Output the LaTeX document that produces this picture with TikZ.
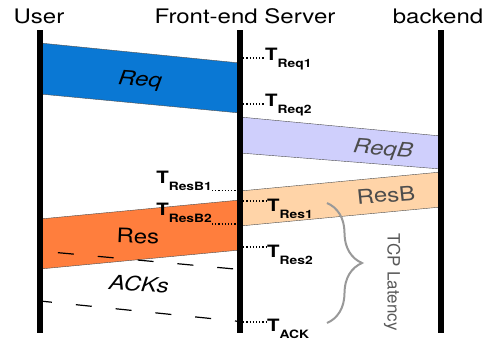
\documentclass[tikz,border=0pt]{standalone}
\usepackage{fontspec}
\setmainfont{TeX Gyre Heros}
\usetikzlibrary{positioning,decorations.pathreplacing}

\definecolor{reqblue}{HTML}{0A78D4}
\definecolor{reqbblue}{HTML}{CFCFFC}
\definecolor{resorange}{HTML}{FF7E3D}
\definecolor{resbpeach}{HTML}{FFD4A8}
\definecolor{bracegray}{HTML}{999999}

\tikzset{>=latex}
\tikzset{
  head/.style={font=\fontsize{20}{20}\selectfont, xscale=1.2, inner sep=0pt},
  bandlbl/.style={font=\fontsize{20}{20}\selectfont, xscale=1.2},
  band/.style={draw=black!70, line width=0.4pt},
  life/.style={line width=6pt},
  tlab/.style={font=\fontsize{17}{17}\selectfont\bfseries, xscale=1.2, inner sep=0pt},
  tdot/.style={dotted, line width=1.2pt},
  ackline/.style={line width=1.2pt, dash pattern=on 16pt off 24pt}
}
\newcommand{\tsub}[1]{\raisebox{-7pt}{\fontsize{11.5}{11.5}\selectfont #1}}

\begin{document}
\begin{tikzpicture}[x=1pt, y=-1pt]

		\useasboundingbox (0,0) rectangle (490,341);

		% Headers
		\node[head, anchor=base] (user) at (39,23) {User};
		\node[head, anchor=base] (fe) at (245,23) {Front-end Server};
		\node[head, anchor=base] (back) at (438,23) {backend};

		% Lifeline ends
		\foreach \n/\x in {user/40, fe/240, back/441}{
			\coordinate (\n-top) at (\x,30);
			\coordinate (\n-bot) at (\x,333);
		}

		% Messages
		\filldraw[band, fill=reqblue] (40,43) -- (240,63) -- (240,113) -- (40,94) -- cycle;
		\filldraw[band, fill=reqbblue] (240,117) -- (441,136) -- (441,169) -- (240,153) -- cycle;
		\filldraw[band, fill=resbpeach] (240,191) -- (441,172) -- (441,207) -- (240,226) -- cycle;
		\filldraw[band, fill=resorange] (40,219) -- (240,200) -- (240,250) -- (40,269) -- cycle;
		\node[bandlbl, rotate=-5] (req) at (140,81) {\itshape Req};
		\node[bandlbl, rotate=-5, text=black!70] (reqb) at (383,150) {\itshape ReqB};
		\node[bandlbl, rotate=5, text=black!70] (resb) at (386,195) {ResB};
		\node[bandlbl, rotate=-2] (res) at (138,236) {Res};

		% ACKs
		\coordinate (ack1a) at (40,251);
		\coordinate (ack1b) at (240,269.5);
		\coordinate (ack2a) at (40,301);
		\coordinate (ack2b) at (240,321.5);
		\draw[ackline, dash phase=22pt] (ack1a) -- (ack1b);
		\draw[ackline, dash phase=4pt] (ack2a) -- (ack2b);
		\node[bandlbl, rotate=-3] (acks) at (139,284) {\itshape ACKs};

		% Lifelines
		\foreach \n in {user, fe, back}
			\draw[life] (\n-top) -- (\n-bot);

		% Timestamps
		\node[tlab, anchor=base west] (treq1) at (265,60) {T\tsub{Req1}};
		\node[tlab, anchor=base west] (treq2) at (265,106) {T\tsub{Req2}};
		\node[tlab, anchor=base east] (tresb1) at (212,183) {T\tsub{ResB1}};
		\node[tlab, anchor=base east] (tresb2) at (212,215) {T\tsub{ResB2}};
		\node[tlab, anchor=base west] (tres1) at (267,211) {T\tsub{Res1}};
		\node[tlab, anchor=base west] (tres2) at (267,257) {T\tsub{Res2}};
		\node[tlab, anchor=base west] (tack) at (267,331) {T\tsub{ACK}};
		\draw[tdot] ([yshift=2pt]treq1.base west -| fe-top) -- ([yshift=2pt]treq1.base west);
		\draw[tdot] ([yshift=2pt]treq2.base west -| fe-top) -- ([yshift=2pt]treq2.base west);
		\draw[tdot] ([yshift=-7.5pt]tresb1.base east) -- ([yshift=-7.5pt]tresb1.base east -| fe-top);
		\draw[tdot] ([yshift=-9pt]tresb2.base east) -- ([yshift=-9pt]tresb2.base east -| fe-top);
		\draw[tdot] ([yshift=10pt]tres1.base west -| fe-top) -- ([yshift=10pt]tres1.base west);
		\draw[tdot] ([yshift=10pt]tres2.base west -| fe-top) -- ([yshift=10pt]tres2.base west);
		\draw[tdot] ([yshift=9pt]tack.base west -| fe-top) -- ([yshift=9pt]tack.base west);

		% TCP latency
		\coordinate (lat-top) at (327,203);
		\coordinate (lat-bot) at (327,323);
		\draw[bracegray, line width=2pt, decorate, decoration={brace, amplitude=35pt}] (lat-top) -- (lat-bot);
		\node[rotate=-90, text=black!65, font=\fontsize{17}{17}\selectfont] (tcp) at (392,282) {TCP Latency};

	\end{tikzpicture}
\end{document}
